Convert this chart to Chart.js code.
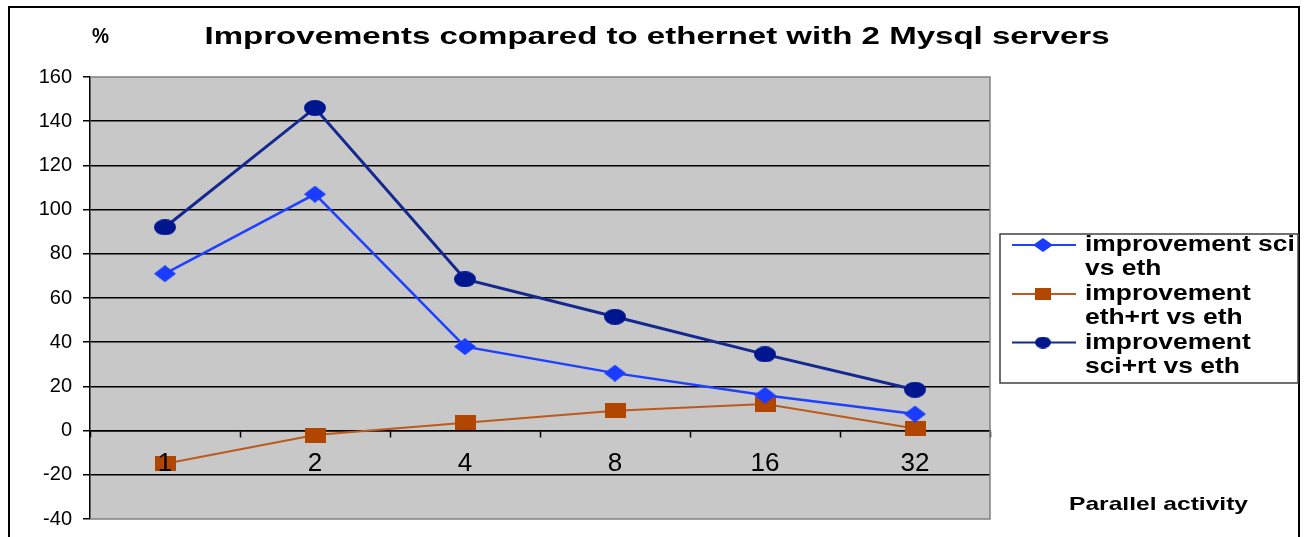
<!DOCTYPE html>
<html>
<head>
<meta charset="utf-8">
<script src="https://cdn.jsdelivr.net/npm/chart.js@4/dist/chart.umd.min.js"></script>
<style>
  html, body { margin: 0; padding: 0; background: #fff; }
  #wrap { width: 1306px; height: 537px; }
</style>
</head>
<body>
<div id="wrap"><canvas id="myChart" width="1306" height="537"></canvas></div>
<script>
// parallel activity levels on the x axis
const labels = ['1', '2', '4', '8', '16', '32'];

// improvement in % over plain ethernet
const sciVsEth = [71, 107, 38, 26, 16, 7.5];
const ethRtVsEth = [-15, -2, 3.5, 9, 12, 1];
const sciRtVsEth = [92, 146, 68.5, 51.5, 34.5, 18.5];

const yTicks = [-40, -20, 0, 20, 40, 60, 80, 100, 120, 140, 160];

const seriesNames = [
    ['improvement sci', 'vs eth'],
    ['improvement', 'eth+rt vs eth'],
    ['improvement', 'sci+rt vs eth']
];

const FONT = "'Liberation Sans', Arial, sans-serif";

// little canvases used as point markers (excel-ish squashed shapes)
function makeMarker(shape, w, h, fill) {
    const c = document.createElement('canvas');
    c.width = w;
    c.height = h;
    const g = c.getContext('2d');
    g.fillStyle = fill;
    g.beginPath();
    if (shape == 'diamond') {
        g.moveTo(w / 2, 0);
        g.lineTo(w, h / 2);
        g.lineTo(w / 2, h);
        g.lineTo(0, h / 2);
        g.closePath();
    } else if (shape == 'rect') {
        g.rect(0, 0, w, h);
    } else {
        g.ellipse(w / 2, h / 2, w / 2, h / 2, 0, 0, Math.PI * 2);
    }
    g.fill();
    return c;
}

const markers = [
    makeMarker('diamond', 22, 17, '#1a3cff'),
    makeMarker('rect', 21, 15, '#b04600'),
    makeMarker('ellipse', 22, 16, '#00168f')
];
const legendMarkers = [
    makeMarker('diamond', 20, 14, '#1a3cff'),
    makeMarker('rect', 16, 12, '#b04600'),
    makeMarker('ellipse', 16, 12, '#00168f')
];
const lineColors = ['#1f40ff', '#bb5a1c', '#14288f'];
const lineWidths = [2.5, 2, 3];

// draw text squeezed/stretched to a given width
function fitText(ctx, text, x, y, width, font, align) {
    ctx.save();
    ctx.font = font;
    ctx.fillStyle = '#000';
    ctx.textBaseline = 'middle';
    ctx.textAlign = 'left';
    const w = ctx.measureText(text).width;
    const sx = width / w;
    let left = x;
    if (align == 'center') left = x - width / 2;
    ctx.translate(left, y);
    ctx.scale(sx, 1);
    ctx.fillText(text, 0, 0);
    ctx.restore();
}

const decorations = {
    id: 'decorations',
    beforeDraw(chart) {
        const ctx = chart.ctx;
        const a = chart.chartArea;
        ctx.save();
        ctx.fillStyle = '#fff';
        ctx.fillRect(0, 0, chart.width, chart.height);
        ctx.fillStyle = '#c8c8c8';
        ctx.fillRect(a.left, a.top, a.right - a.left, a.bottom - a.top);
        ctx.restore();
    },
    beforeDatasetsDraw(chart) {
        const ctx = chart.ctx;
        const a = chart.chartArea;
        ctx.save();
        ctx.strokeStyle = '#808080';
        ctx.lineWidth = 1.5;
        ctx.beginPath();
        ctx.moveTo(a.left, a.top);
        ctx.lineTo(a.right, a.top);
        ctx.lineTo(a.right, a.bottom);
        ctx.lineTo(a.left, a.bottom);
        ctx.stroke();
        ctx.restore();
    },
    afterDraw(chart) {
        const ctx = chart.ctx;
        // outer frame
        ctx.save();
        ctx.strokeStyle = '#000';
        ctx.lineWidth = 2;
        ctx.beginPath();
        ctx.moveTo(9, chart.height + 2);
        ctx.lineTo(9, 7);
        ctx.lineTo(1299, 7);
        ctx.lineTo(1299, chart.height + 2);
        ctx.stroke();
        ctx.restore();

        fitText(ctx, 'Improvements compared to ethernet with 2 Mysql servers', 657, 37, 905, 'bold 24px ' + FONT, 'center');
        fitText(ctx, '%', 92, 37, 17, 'bold 22px ' + FONT, 'left');
        fitText(ctx, 'Parallel activity', 1069, 505, 179, 'bold 19px ' + FONT, 'left');

        // legend box
        const lx = 1000, ly = 234, lw = 298, lh = 149;
        ctx.save();
        ctx.fillStyle = '#fff';
        ctx.fillRect(lx, ly, lw, lh);
        ctx.strokeStyle = '#404040';
        ctx.lineWidth = 1.5;
        ctx.strokeRect(lx, ly, lw, lh);
        ctx.restore();

        const rowY = [245, 294, 342.5];
        chart.data.datasets.forEach(function (ds, i) {
            const y = rowY[i];
            ctx.save();
            ctx.strokeStyle = ds.borderColor;
            ctx.lineWidth = 2;
            ctx.beginPath();
            ctx.moveTo(1012, y);
            ctx.lineTo(1076, y);
            ctx.stroke();
            const m = legendMarkers[i];
            ctx.drawImage(m, 1043 - m.width / 2, y - m.height / 2);
            ctx.restore();
            const lines = seriesNames[i];
            lines.forEach(function (t, k) {
                ctx.save();
                ctx.font = 'bold 22px ' + FONT;
                const w = ctx.measureText(t).width;
                ctx.restore();
                fitText(ctx, t, 1085, y + k * 24, w * 1.2, 'bold 22px ' + FONT, 'left');
            });
        });
    }
};

const chartData = {
    labels: labels,
    datasets: [sciVsEth, ethRtVsEth, sciRtVsEth].map(function (vals, i) {
        return {
            label: seriesNames[i].join(' '),
            data: vals,
            borderColor: lineColors[i],
            backgroundColor: lineColors[i],
            borderWidth: lineWidths[i],
            pointStyle: markers[i],
            tension: 0
        };
    })
};

const config = {
    type: 'line',
    data: chartData,
    options: {
        responsive: false,
        animation: false,
        layout: {
            padding: { top: 77, right: 316, bottom: 18, left: 0 }
        },
        plugins: {
            legend: { display: false },
            title: { display: false },
            tooltip: { enabled: false }
        },
        scales: {
            x: {
                position: { y: 0 },
                offset: true,
                grid: {
                    offset: true,
                    drawOnChartArea: false,
                    tickLength: 6,
                    tickColor: '#000',
                    tickWidth: 1.5
                },
                border: { color: '#000', width: 1.5 },
                ticks: {
                    z: 1,
                    color: '#000',
                    font: { family: FONT, size: 26 },
                    padding: 12,
                    maxRotation: 0
                }
            },
            y: {
                min: -40,
                max: 160,
                afterFit(scale) { scale.width = 90; },
                afterBuildTicks(scale) {
                    scale.ticks = yTicks.map(function (v) { return { value: v }; });
                },
                grid: {
                    color: function (c) {
                        const v = c.tick && c.tick.value;
                        return (v == 160 || v == -40) ? 'rgba(0,0,0,0)' : '#000';
                    },
                    lineWidth: 1.5,
                    tickLength: 7,
                    tickColor: '#000',
                    tickWidth: 1.5
                },
                border: { color: '#000', width: 1.5 },
                ticks: {
                    color: '#000',
                    font: { family: FONT, size: 20, lineHeight: 0.7 },
                    padding: 11
                }
            }
        }
    },
    plugins: [decorations]
};

var myChart = new Chart(document.getElementById('myChart'), config);
</script>
</body>
</html>
